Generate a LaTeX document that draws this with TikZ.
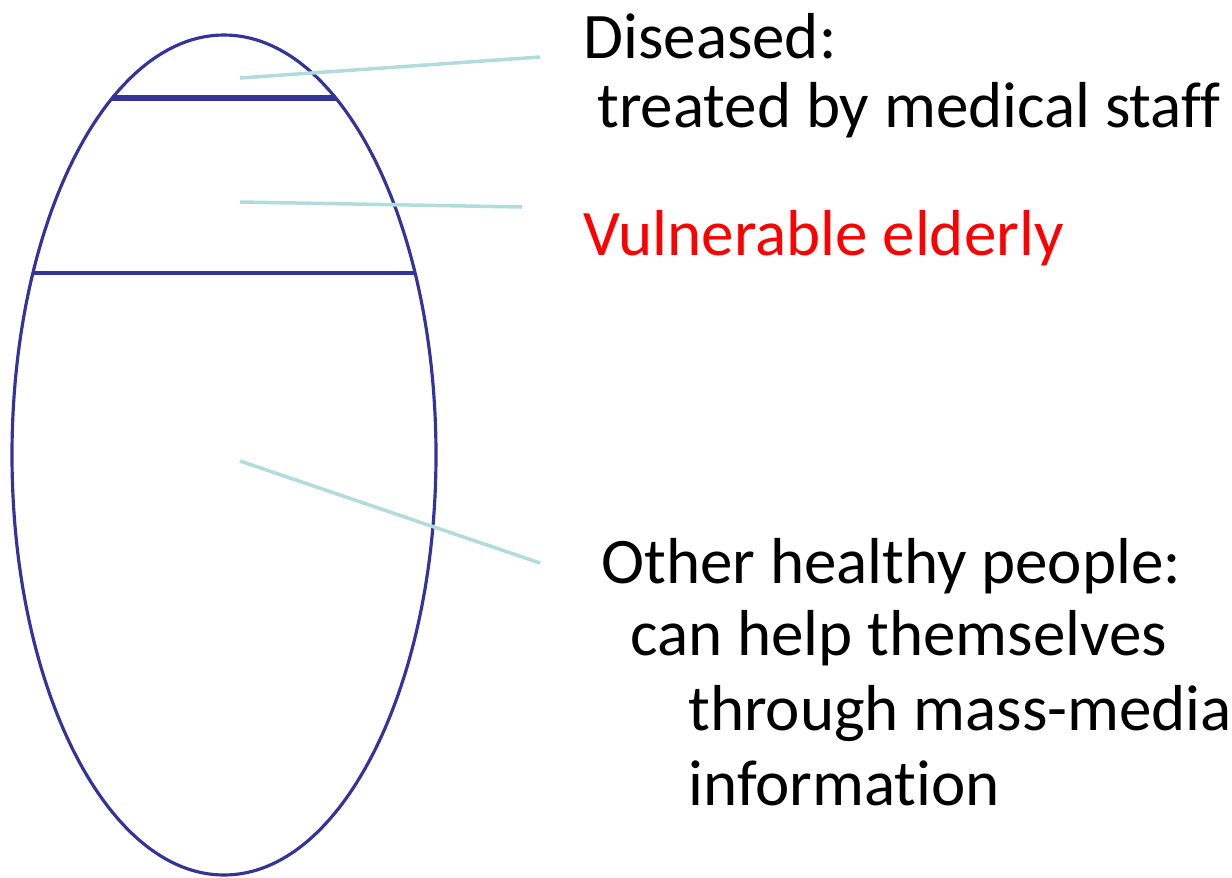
\documentclass[tikz,border=0pt]{standalone}
\usepackage{fontspec}
\setmainfont{Carlito}[Ligatures={NoCommon}]
\usepackage{tikz}
\usetikzlibrary{positioning}
\definecolor{ringblue}{HTML}{333399}
\definecolor{leadcol}{HTML}{B2DCDC}

\begin{document}
\begin{tikzpicture}[x=0.02cm, y=-0.02cm,
		lbl/.style={anchor=base west, inner sep=0pt, font=\fontsize{37}{42}\selectfont},
		ring/.style={draw=ringblue, line width=1.8pt},
		lead/.style={draw=leadcol, line width=2pt}]
				\useasboundingbox (0,0) rectangle (1232,877);
				
				\path[ring] (224,455) ellipse [x radius=212, y radius=420];
				
				\coordinate (t1) at (112,98);
				\coordinate (t2) at (336,98);
				\coordinate (m1) at (33,273);
				\coordinate (m2) at (415,273);
				\draw[ringblue, line width=3pt] (t1) -- (t2);
				\draw[ringblue, line width=2.2pt] (m1) -- (m2);
				
				\node[lbl] (dis) at (583,58) {Diseased:};
				\node[lbl] (trt) at (597,127) {treated by medical staff};
				\node[lbl, red] (vul) at (583,255) {Vulnerable elderly};
				\node[lbl] (oth) at (601,583) {Other healthy people:};
				\node[lbl] (can) at (630,655) {can help themselves};
				\node[lbl] (thr) at (688,730) {through mass-media};
				\node[lbl] (inf) at (688,805) {information};
				
				\coordinate (a1) at (240,78);
				\coordinate (b1) at (540,57);
				\coordinate (a2) at (240,202);
				\coordinate (b2) at (522,207);
				\coordinate (a3) at (240,461);
				\coordinate (b3) at (540,563);
				\draw[lead] (a1) -- (b1);
				\draw[lead] (a2) -- (b2);
				\draw[lead] (a3) -- (b3);
			\end{tikzpicture}
\end{document}
